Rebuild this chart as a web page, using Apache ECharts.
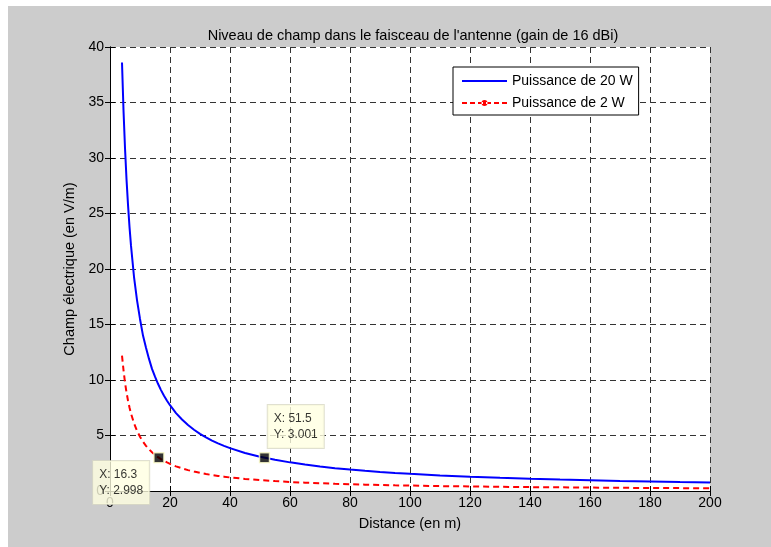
<!DOCTYPE html>
<html>
<head>
<meta charset="utf-8">
<script src="https://cdn.jsdelivr.net/npm/echarts@6/dist/echarts.min.js"></script>
<style>
html,body{margin:0;padding:0;background:#ffffff;width:771px;height:547px;overflow:hidden;}
#chart{position:absolute;left:8px;top:6px;width:763px;height:541px;background:#cccccc;}
</style>
</head>
<body>
<div id="chart"></div>
<script>
// Distances (m)
const distances = [4, 4.5, 5, 5.5, 6, 6.5, 7, 8, 9, 10, 11, 12, 13, 14, 15, 16, 17, 18, 19, 20, 22, 24, 26, 28, 30, 32, 34, 36, 38, 40, 45, 50, 55, 60, 65, 70, 75, 80, 85, 90, 95, 100, 110, 120, 130, 140, 150, 160, 170, 180, 190, 200];
// Field level, 20 W (V/m)
const field20W = [38.6, 34.3, 30.9, 28.1, 25.8, 23.8, 22.1, 19.3, 17.2, 15.5, 14.0, 12.9, 11.9, 11.0, 10.3, 9.66, 9.09, 8.58, 8.13, 7.73, 7.02, 6.44, 5.94, 5.52, 5.15, 4.83, 4.54, 4.29, 4.07, 3.86, 3.43, 3.09, 2.81, 2.58, 2.38, 2.21, 2.06, 1.93, 1.82, 1.72, 1.63, 1.55, 1.40, 1.29, 1.19, 1.10, 1.03, 0.97, 0.91, 0.86, 0.81, 0.77];
// Field level, 2 W (V/m)
const field2W = [12.2, 10.9, 9.77, 8.89, 8.15, 7.52, 6.98, 6.11, 5.43, 4.89, 4.44, 4.07, 3.76, 3.49, 3.26, 3.05, 2.87, 2.72, 2.57, 2.44, 2.22, 2.04, 1.88, 1.75, 1.63, 1.53, 1.44, 1.36, 1.29, 1.22, 1.09, 0.98, 0.89, 0.81, 0.75, 0.70, 0.65, 0.61, 0.57, 0.54, 0.51, 0.49, 0.44, 0.41, 0.38, 0.35, 0.33, 0.31, 0.29, 0.27, 0.26, 0.24];
// Data tips
const tip20W = [51.5, 3.001];
const tip2W = [16.3, 2.998];

const titleText = "Niveau de champ dans le faisceau de l'antenne (gain de 16 dBi)";
const xName = "Distance (en m)";
const yName = "Champ électrique (en V/m)";
const name20 = "Puissance de 20 W";
const name2 = "Puissance de 2 W";

const FONT = "'Liberation Sans', Arial, Helvetica, sans-serif";
const pair = (xs, ys) => xs.map((x, i) => [x, ys[i]]);

// legend icons (45 x 14 box)
const corners = 'M0,0h0.01v0.01h-0.01z M44.99,13.99h0.01v0.01h-0.01z ';
const iconSolid = 'path://' + corners + 'M0,6h45v2h-45z';
const iconDashDot = 'path://' + corners +
  'M0,6h5v2h-5z M8,6h5v2h-5z M16,6h5v2h-5z M24,6h5v2h-5z M32,6h5v2h-5z M40,6h5v2h-5z ' +
  'M19.5,7a3,3 0 1,0 6,0a3,3 0 1,0 -6,0z';

const chart = echarts.init(document.getElementById('chart'), null, {renderer: 'canvas'});
const gridLine = {show: true, lineStyle: {color: '#333333', width: 1, type: [6, 4]}};
const axisLineBlack = {show: true, lineStyle: {color: '#000', width: 1}};
const tickIn = {show: true, inside: true, length: 5, lineStyle: {color: '#000'}};

const tipLabel = (pos) => ({
  show: true, position: pos, align: 'left', verticalAlign: 'top',
  formatter: p => 'X: ' + p.value[0] + '\nY: ' + p.value[1].toFixed(3),
  fontFamily: FONT, fontSize: 12, color: '#000', lineHeight: 16,
  backgroundColor: '#ffffe1', borderColor: '#d8d8c4', borderWidth: 1,
  padding: [6, 6, 5, 6]
});

const option = {
  animation: false,
  backgroundColor: '#cccccc',
  textStyle: {fontFamily: FONT},
  title: {
    text: titleText,
    left: 400, top: 17, textAlign: 'center',
    textStyle: {fontFamily: FONT, fontSize: 14.5, fontWeight: 'normal', color: '#000'}
  },
  grid: {left: 102, top: 41, width: 600, height: 444, backgroundColor: '#ffffff', show: true, borderWidth: 0},
  legend: {
    data: [{name: name20, icon: iconSolid}, {name: name2, icon: iconDashDot}],
    orient: 'vertical',
    left: 445, top: 61,
    backgroundColor: '#ffffff',
    borderColor: '#000', borderWidth: 1, borderRadius: 0,
    padding: [7, 6, 5, 9],
    itemWidth: 45, itemHeight: 14, itemGap: 8,
    textStyle: {fontFamily: FONT, fontSize: 14, color: '#000'}
  },
  xAxis: [{
    type: 'value', min: 0, max: 200, interval: 20, position: 'bottom',
    name: xName, nameLocation: 'middle', nameGap: 25,
    nameTextStyle: {fontFamily: FONT, fontSize: 14.5, color: '#000'},
    axisLine: axisLineBlack, axisTick: tickIn, splitLine: gridLine,
    axisLabel: {fontFamily: FONT, fontSize: 14, color: '#000', margin: 5}
  }, {
    type: 'value', min: 0, max: 200, interval: 20, position: 'top',
    axisLine: axisLineBlack, axisTick: tickIn, splitLine: {show: false}, axisLabel: {show: false}
  }],
  yAxis: [{
    type: 'value', min: 0, max: 40, interval: 5, position: 'left',
    name: yName, nameLocation: 'middle', nameGap: 28,
    nameTextStyle: {fontFamily: FONT, fontSize: 14.5, color: '#000'},
    axisLine: axisLineBlack, axisTick: tickIn, splitLine: gridLine,
    axisLabel: {fontFamily: FONT, fontSize: 14, color: '#000', margin: 6}
  }, {
    type: 'value', min: 0, max: 40, interval: 5, position: 'right',
    axisLine: axisLineBlack, axisTick: tickIn, splitLine: {show: false}, axisLabel: {show: false}
  }],
  series: [{
    name: name20, type: 'line', data: pair(distances, field20W),
    smooth: false, symbol: 'none',
    lineStyle: {color: '#0000ff', width: 2}, itemStyle: {color: '#0000ff'}, z: 3
  }, {
    name: name2, type: 'line', data: pair(distances, field2W),
    smooth: false, symbol: 'none',
    lineStyle: {color: '#ff0000', width: 2, type: [6, 4]}, itemStyle: {color: '#ff0000'}, z: 3
  }, {
    name: 'tip20', type: 'scatter', data: [tip20W], symbol: 'rect', symbolSize: 10,
    itemStyle: {color: '#000', borderColor: '#ffffcc', borderWidth: 1.5}, z: 10,
    label: tipLabel([9, -47])
  }, {
    name: 'tip2', type: 'scatter', data: [tip2W], symbol: 'rect', symbolSize: 10,
    itemStyle: {color: '#000', borderColor: '#ffffcc', borderWidth: 1.5}, z: 10,
    label: tipLabel([-60, 9])
  }]
};
chart.setOption(option);
</script>
</body>
</html>
